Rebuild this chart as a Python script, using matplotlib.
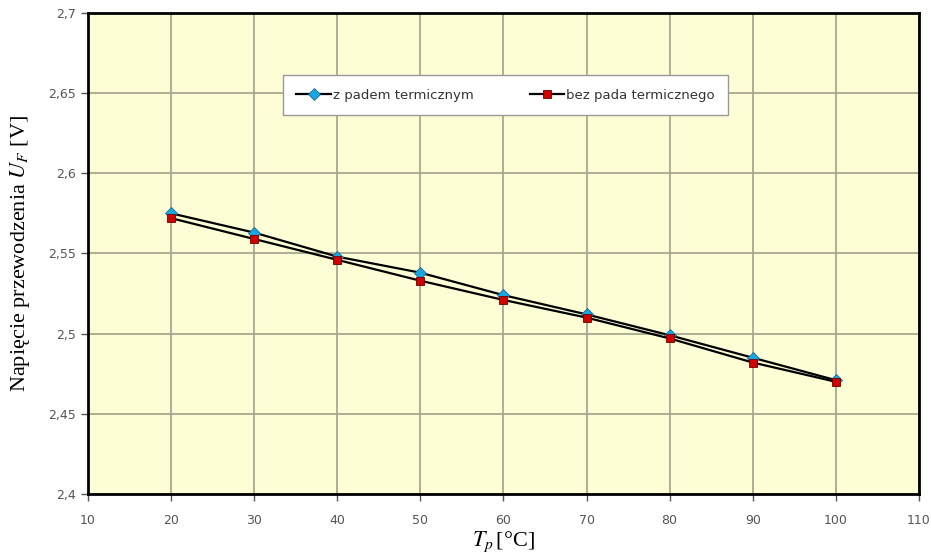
import matplotlib
matplotlib.use('Agg')
import matplotlib.pyplot as plt

plt.rcParams['mathtext.fontset'] = 'stix'

temps = [20, 30, 40, 50, 60, 70, 80, 90, 100]
u_pad = [2.575, 2.563, 2.548, 2.538, 2.524, 2.512, 2.499, 2.485, 2.471]
u_nopad = [2.572, 2.559, 2.546, 2.533, 2.521, 2.510, 2.497, 2.482, 2.470]
x_ticks = [10, 20, 30, 40, 50, 60, 70, 80, 90, 100, 110]
y_ticks = [2.4, 2.45, 2.5, 2.55, 2.6, 2.65, 2.7]
y_labels = ['2,4', '2,45', '2,5', '2,55', '2,6', '2,65', '2,7']

fig = plt.figure(figsize=(9.31, 5.57), dpi=100)
ax = fig.add_axes([0.0945, 0.113, 0.8925, 0.864])
ax.set_facecolor('#fefed6')

ax.plot(temps, u_pad, color='black', lw=1.6, marker='D', ms=6,
        mfc='#1aa6e0', mec='#1a6a90', mew=0.6, label='z padem termicznym', zorder=3)
ax.plot(temps, u_nopad, color='black', lw=1.6, marker='s', ms=6,
        mfc='#d00000', mec='#700000', mew=0.6, label='bez pada termicznego', zorder=3)

ax.set_xlim(10, 110)
ax.set_ylim(2.4, 2.7)
ax.set_xticks(x_ticks)
ax.set_yticks(y_ticks)
ax.set_yticklabels(y_labels)
ax.grid(color='#a8a890', lw=1.3)
ax.set_axisbelow(True)
for s in ax.spines.values():
    s.set_linewidth(2)
    s.set_color('black')
ax.tick_params(labelsize=9, colors='#555555', length=5, width=1)
ax.tick_params(axis='x', pad=9)

ax.set_xlabel(r'$T_p\,$[°C]', fontsize=16, family='Liberation Serif', labelpad=2)
ax.set_ylabel(r'Napięcie przewodzenia $U_F$ [V]', fontsize=16, family='Liberation Serif', labelpad=12)

leg = ax.legend(loc='upper left', bbox_to_anchor=(0.235, 0.87), ncol=2, fontsize=9.5,
                frameon=True, fancybox=False, edgecolor='#999999', facecolor='white',
                framealpha=1, borderpad=1.0, handlelength=2.6, columnspacing=4.2,
                handletextpad=0.2, borderaxespad=0)
for t in leg.get_texts():
    t.set_color('#333333')

fig.savefig('out.png', dpi=100)
